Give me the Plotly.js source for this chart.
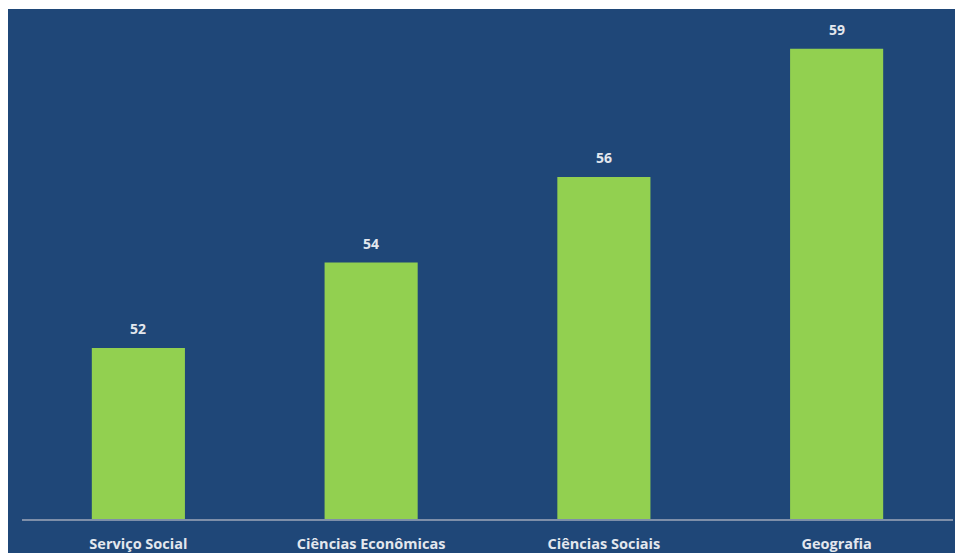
<!DOCTYPE html>
<html><head><meta charset="utf-8">
<script src="https://cdn.plot.ly/plotly-3.0.1.min.js"></script>
<style>html,body{margin:0;padding:0;background:#fff;width:955px;height:553px;overflow:hidden}
#chart{position:absolute;left:8px;top:9px;width:947px;height:544px}</style>
</head><body><div id="chart"></div>
<script>
const categories = ["Serviço Social", "Ciências Econômicas", "Ciências Sociais", "Geografia"];
const values = [52, 54, 56, 59];

const trace = {
  type: 'bar', x: categories, y: values,
  marker: {color: '#92D050'},
  hoverinfo: 'none'
};
const annotations = categories.map((c, i) => ({
  x: c, y: values[i], xref: 'x', yref: 'y', text: String(values[i]),
  showarrow: false, yanchor: 'bottom', yshift: 8,
  font: {family: 'Open Sans, sans-serif', size: 14, color: '#E3E7EE', weight: 'bold'}
}));
const layout = {
  width: 947, height: 544,
  margin: {l: 14, r: 2, t: 0, b: 34},
  paper_bgcolor: '#1F4778', plot_bgcolor: '#1F4778',
  bargap: 0.6, showlegend: false,
  xaxis: {showgrid: false, showline: true, linecolor: '#7E8FA9', linewidth: 1.5, ticks: '',
    ticklabelstandoff: 11,
    tickfont: {family: 'Open Sans, sans-serif', size: 14.5, color: '#E3E7EE', weight: 'bold'}},
  yaxis: {range: [48, 59.93], showgrid: false, zeroline: false, showticklabels: false, showline: false, ticks: ''},
  annotations: annotations
};
Plotly.newPlot('chart', [trace], layout, {displayModeBar: false, staticPlot: true});
</script></body></html>
